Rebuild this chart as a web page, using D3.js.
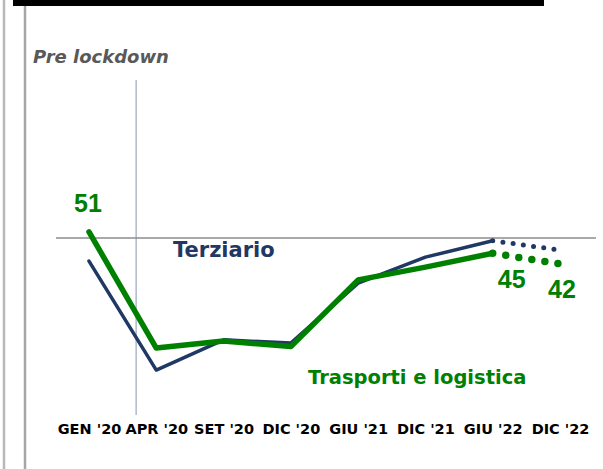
<!DOCTYPE html>
<html>
<head>
<meta charset="utf-8">
<script src="https://cdn.jsdelivr.net/npm/d3@7"></script>
<style>
  html, body { margin: 0; padding: 0; background: #fff; }
  svg { display: block; }
</style>
</head>
<body>
<div id="chart"></div>
<script>
// categories and series
const periods = ["GEN '20", "APR '20", "SET '20", "DIC '20", "GIU '21", "DIC '21", "GIU '22", "DIC '22"];
const terziario = [42.8, 12.1, 20.6, 19.7, 36.6, 43.9, 48.5, 45.9];
const trasporti = [51, 18.3, 20.3, 18.7, 37.5, 41.1, 45, 42];
const forecastFrom = 6; // GIU '22 onwards is dotted
const refValue = 49.3;
const valueLabels = [
  { i: 0, v: 51, text: "51" },
  { i: 6, v: 45, text: "45" },
  { i: 7, v: 42, text: "42" }
];

const width = 603, height = 469;
const navy = "#1f3864", green = "#008000";

const svg = d3.select("#chart").append("svg")
  .attr("width", width)
  .attr("height", height);

/* scales */
const x = d3.scalePoint()
  .domain(periods)
  .range([89, 560]);
const y = d3.scaleLinear()
  .domain([0, 60])
  .range([413, 200]);

/* frame bits */
svg.append("rect")
  .attr("x", 13).attr("y", 0)
  .attr("width", 531).attr("height", 6)
  .attr("fill", "#000");
svg.append("line")
  .attr("x1", 4).attr("x2", 4).attr("y1", 0).attr("y2", height)
  .attr("stroke", "#b8b8b8").attr("stroke-width", 2.5);
svg.append("line")
  .attr("x1", 25).attr("x2", 25).attr("y1", 6).attr("y2", height)
  .attr("stroke", "#a6a6a6").attr("stroke-width", 2.5);

svg.append("text")
  .attr("x", 33).attr("y", 63)
  .attr("font-family", "DejaVu Sans")
  .attr("font-weight", "bold")
  .attr("font-style", "italic")
  .attr("font-size", 18)
  .attr("fill", "#595959")
  .text("Pre lockdown");

// lockdown marker between GEN and APR
const lockX = x(periods[0]) + 0.7 * x.step();
svg.append("line")
  .attr("x1", lockX).attr("x2", lockX)
  .attr("y1", 80).attr("y2", 415)
  .attr("stroke", "#8497b0").attr("stroke-width", 1);

// reference line
svg.append("line")
  .attr("x1", 56).attr("x2", 596)
  .attr("y1", y(refValue)).attr("y2", y(refValue))
  .attr("stroke", "#8c8c8c").attr("stroke-width", 1.5);

/* x axis */
const xAxis = svg.append("g")
  .attr("transform", "translate(0,424)")
  .call(d3.axisBottom(x).tickSize(0).tickPadding(0));
xAxis.select(".domain").remove();
xAxis.selectAll("text")
  .attr("font-family", "DejaVu Sans")
  .attr("font-weight", "bold")
  .attr("font-size", 14.5)
  .attr("fill", "#000");

/* lines */
const line = d3.line()
  .x(d => x(d.p))
  .y(d => y(d.v));

function drawSeries(values, color, w, dot) {
  const pts = values.map((v, i) => ({ p: periods[i], v: v }));
  svg.append("path")
    .datum(pts.slice(0, forecastFrom + 1))
    .attr("d", line)
    .attr("fill", "none")
    .attr("stroke", color)
    .attr("stroke-width", w)
    .attr("stroke-linejoin", "round")
    .attr("stroke-linecap", "round");
  svg.append("path")
    .datum(pts.slice(forecastFrom))
    .attr("d", line)
    .attr("fill", "none")
    .attr("stroke", color)
    .attr("stroke-width", dot.w)
    .attr("stroke-linecap", "round")
    .attr("stroke-dasharray", "0 " + dot.s);
}

drawSeries(terziario, navy, 3.5, { w: 5, s: 10.3 });
drawSeries(trasporti, green, 5.5, { w: 7.5, s: 13.2 });

/* value labels */
const labelNudge = { 0: [-1, -20], 6: [19, 35], 7: [2, 34] };
svg.selectAll(".val")
  .data(valueLabels)
  .join("text")
  .attr("class", "val")
  .attr("x", d => x(periods[d.i]) + labelNudge[d.i][0])
  .attr("y", d => y(d.v) + labelNudge[d.i][1])
  .attr("text-anchor", "middle")
  .attr("font-family", "Liberation Sans")
  .attr("font-weight", "bold")
  .attr("font-size", 25)
  .attr("fill", green)
  .text(d => d.text);

/* series names */
svg.append("text")
  .attr("x", 173).attr("y", 257)
  .attr("font-family", "DejaVu Sans")
  .attr("font-weight", "bold")
  .attr("font-size", 21)
  .attr("fill", navy)
  .text("Terziario");
svg.append("text")
  .attr("x", 308).attr("y", 384)
  .attr("font-family", "DejaVu Sans")
  .attr("font-weight", "bold")
  .attr("font-size", 19.5)
  .attr("fill", green)
  .text("Trasporti e logistica");
</script>
</body>
</html>
